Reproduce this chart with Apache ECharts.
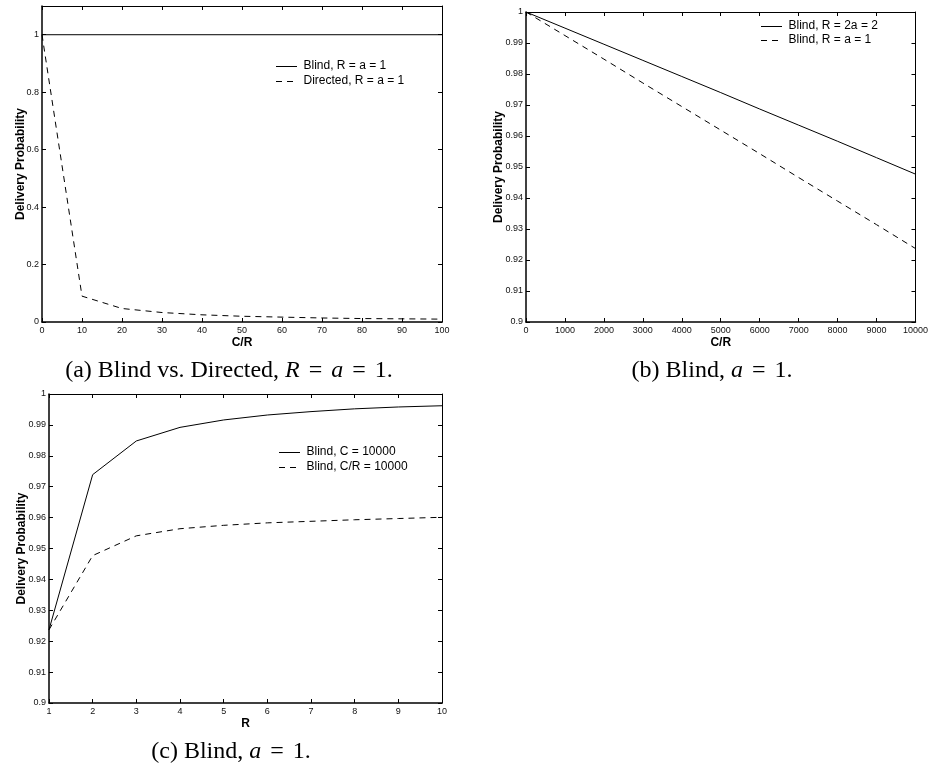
<!DOCTYPE html>
<html>
<head>
<meta charset="utf-8">
<script src="https://cdn.jsdelivr.net/npm/echarts@6/dist/echarts.min.js"></script>
<style>
html,body{margin:0;padding:0;background:#fff;}
#chart{width:931px;height:765px;}
</style>
</head>
<body>
<div id="chart"></div>
<script>
// ---- Data ----
const xA = [0, 10, 20, 30, 40, 50, 60, 70, 80, 90, 100];
const blindA = [1, 1, 1, 1, 1, 1, 1, 1, 1, 1, 1];
const directedA = [1, 0.09, 0.047, 0.033, 0.025, 0.02, 0.017, 0.014, 0.012, 0.011, 0.01];

const xB = [0, 1000, 2000, 3000, 4000, 5000, 6000, 7000, 8000, 9000, 10000];
const blindR2B = [1, 0.9948, 0.9896, 0.9844, 0.9792, 0.9740, 0.9687, 0.9635, 0.9583, 0.9530, 0.9477];
const blindR1B = [1, 0.9924, 0.9848, 0.9771, 0.9695, 0.9619, 0.9543, 0.9466, 0.9390, 0.9314, 0.9237];

const xC = [1, 2, 3, 4, 5, 6, 7, 8, 9, 10];
const blindC = [0.9237, 0.9739, 0.9848, 0.9892, 0.9916, 0.9932, 0.9943, 0.9952, 0.9958, 0.9962];
const blindCR = [0.9237, 0.9477, 0.9541, 0.9564, 0.9575, 0.9583, 0.9588, 0.9593, 0.9597, 0.9601];

const legendA = ['Blind, R = a = 1', 'Directed, R = a = 1'];
const legendB = ['Blind, R = 2a = 2', 'Blind, R = a = 1'];
const legendC = ['Blind, C = 10000', 'Blind, C/R = 10000'];

const captionA = '(a) Blind vs. Directed, {i|R}{eq|=}{i|a}{eq|=}1.';
const captionB = '(b) Blind, {i|a}{eq|=}1.';
const captionC = '(c) Blind, {i|a}{eq|=}1.';

// ---- helpers ----
const zip = (xs, ys) => xs.map((x, i) => [x, ys[i]]);
const SANS = 'Liberation Sans';
const SERIF = 'Liberation Serif';
const DASH = [6, 5];

function mainX(grid, min, max, interval, name, gap) {
  return {
    gridIndex: grid, type: 'value', position: 'bottom', min, max, interval,
    name, nameLocation: 'middle', nameGap: gap, nameMoveOverlap: false,
    nameTextStyle: {fontFamily: SANS, fontSize: 12, fontWeight: 'bold', color: '#000'},
    axisLine: {show: true, onZero: false, lineStyle: {color: '#000', width: 1.5}},
    axisTick: {show: true, inside: true, length: 4, lineStyle: {color: '#000', width: 1}},
    axisLabel: {show: true, margin: 4, fontFamily: SANS, fontSize: 9, color: '#111',
      formatter: v => String(v)},
    splitLine: {show: false}
  };
}
function mirrorX(grid, min, max, interval) {
  return {
    gridIndex: grid, type: 'value', position: 'top', min, max, interval,
    axisLine: {show: true, onZero: false, lineStyle: {color: '#000', width: 1}},
    axisTick: {show: true, inside: true, length: 4, lineStyle: {color: '#000', width: 1}},
    axisLabel: {show: false}, splitLine: {show: false}
  };
}
function mainY(grid, min, max, interval, gap, hideMax) {
  return {
    gridIndex: grid, type: 'value', position: 'left', min, max, interval,
    name: 'Delivery Probability', nameLocation: 'middle', nameGap: gap, nameMoveOverlap: false,
    nameTextStyle: {fontFamily: SANS, fontSize: 12, fontWeight: 'bold', color: '#000'},
    axisLine: {show: true, onZero: false, lineStyle: {color: '#000', width: 1.5}},
    axisTick: {show: true, inside: true, length: 4, lineStyle: {color: '#000', width: 1}},
    axisLabel: {show: true, margin: 3, fontFamily: SANS, fontSize: 9, color: '#111',
      showMaxLabel: !hideMax, formatter: v => String(+v.toFixed(4))},
    splitLine: {show: false}
  };
}
function mirrorY(grid, min, max, interval) {
  return {
    gridIndex: grid, type: 'value', position: 'right', min, max, interval,
    axisLine: {show: true, onZero: false, lineStyle: {color: '#000', width: 1}},
    axisTick: {show: true, inside: true, length: 4, lineStyle: {color: '#000', width: 1}},
    axisLabel: {show: false}, splitLine: {show: false}
  };
}
function lineSeries(name, xi, yi, data, dashed) {
  return {
    type: 'line', name, xAxisIndex: xi, yAxisIndex: yi, data,
    symbol: 'none', showSymbol: false, animation: false,
    lineStyle: {color: '#000', width: 1, type: dashed ? DASH : 'solid'},
    itemStyle: {color: '#000'}
  };
}
// legend drawn as graphic: sample line + label per row
function legendGroup(names, left, top, pitch) {
  const children = [];
  names.forEach((n, i) => {
    const y = i * pitch;
    children.push({
      type: 'line', shape: {x1: 0, y1: y + 0.5, x2: 21, y2: y + 0.5},
      style: {stroke: '#000', lineWidth: 1, lineDash: i === 1 ? DASH : null}
    });
    children.push({
      type: 'text', x: 27.5, y,
      style: {text: n, fontFamily: SANS, fontSize: 12, fill: '#000',
        align: 'left', verticalAlign: 'middle'}
    });
  });
  return {type: 'group', x: left, y: top, children};
}
function caption(text, x, y) {
  return {
    type: 'text', x, y,
    style: {
      text, fontFamily: SERIF, fontSize: 24, fill: '#000',
      align: 'center', verticalAlign: 'middle',
      rich: {
        i: {fontFamily: SERIF, fontSize: 24, fontStyle: 'italic', fill: '#000'},
        eq: {fontFamily: SERIF, fontSize: 24, fill: '#000', padding: [0, 9]}
      }
    }
  };
}

const chart = echarts.init(document.getElementById('chart'), null, {renderer: 'canvas'});
chart.setOption({
  animation: false,
  backgroundColor: '#fff',
  textStyle: {fontFamily: SANS},
  grid: [
    {left: 42, top: 6, width: 400, height: 316},
    {left: 526, top: 12, width: 393, height: 310},
    {left: 49, top: 394, width: 393, height: 309}
  ],
  xAxis: [
    mainX(0, 0, 100, 10, 'C/R', 15), mirrorX(0, 0, 100, 10),
    mainX(1, 0, 10000, 1000, 'C/R', 15), mirrorX(1, 0, 10000, 1000),
    mainX(2, 1, 10, 1, 'R', 15), mirrorX(2, 1, 10, 1)
  ],
  yAxis: [
    mainY(0, 0, 1.1, 0.2, 15, true), mirrorY(0, 0, 1.1, 0.2),
    mainY(1, 0.9, 1, 0.01, 21, false), mirrorY(1, 0.9, 1, 0.01),
    mainY(2, 0.9, 1, 0.01, 21, false), mirrorY(2, 0.9, 1, 0.01)
  ],
  series: [
    lineSeries(legendA[0], 0, 0, zip(xA, blindA), false),
    lineSeries(legendA[1], 0, 0, zip(xA, directedA), true),
    lineSeries(legendB[0], 2, 2, zip(xB, blindR2B), false),
    lineSeries(legendB[1], 2, 2, zip(xB, blindR1B), true),
    lineSeries(legendC[0], 4, 4, zip(xC, blindC), false),
    lineSeries(legendC[1], 4, 4, zip(xC, blindCR), true)
  ],
  graphic: [
    legendGroup(legendA, 276, 66, 15),
    legendGroup(legendB, 761, 26, 14),
    legendGroup(legendC, 279, 452, 15),
    caption(captionA, 229, 371),
    caption(captionB, 712, 371),
    caption(captionC, 231, 752)
  ]
});
</script>
</body>
</html>
